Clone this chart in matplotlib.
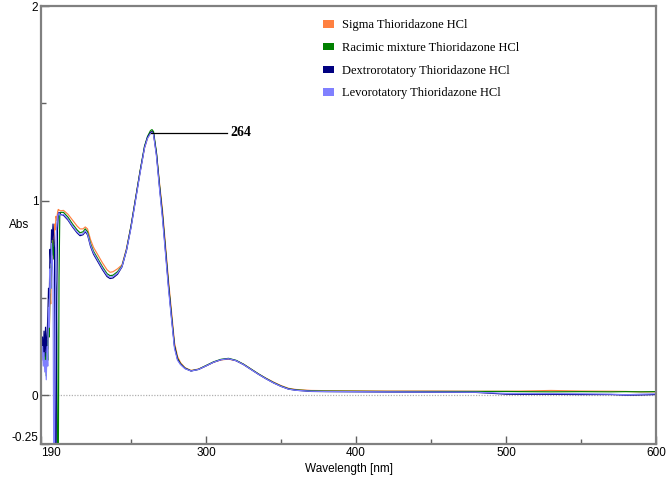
import matplotlib
matplotlib.use("Agg")
import matplotlib.pyplot as plt
from matplotlib.patches import Patch
from matplotlib.ticker import FixedLocator

# UV spectra of thioridazone HCl samples
# noisy start 190-203 nm in 0.5 nm steps, then a coarser smooth part
wl_noise = [190, 190.5, 191, 191.5, 192, 192.5, 193, 193.5, 194, 194.5, 195, 195.5,
            196, 196.5, 197, 197.5, 198, 198.5, 199, 199.5, 200, 200.5, 201, 201.5,
            202, 202.5, 203]
wl_main = [205, 208, 211, 214, 216, 218, 219.5, 221, 223, 225, 228, 231, 234, 236,
           238, 241, 244, 247, 250, 253, 256, 259, 261, 263, 264, 265, 267, 269, 271,
           273, 275, 277, 279, 281, 283, 286, 290, 295, 300, 305, 310, 315, 320, 325,
           330, 335, 340, 345, 350, 355, 360, 370, 380, 400, 420, 450, 480, 500, 510,
           530, 550, 570, 580, 590, 600]

sigma_noise = [0.27, 0.24, 0.26, 0.21, 0.23, 0.19, 0.22, 0.20, 0.26, 0.24, 0.34, 0.30,
               0.52, 0.47, 0.70, 0.66, 0.82, 0.78, 0.88, 0.85, 0.92, 0.90, 0.94, 0.955,
               0.952, 0.950, 0.948]
racemic_noise = [0.30, 0.24, 0.27, 0.20, 0.25, 0.16, 0.22, 0.10, 0.28, 0.18, 0.40, 0.30,
                 0.62, 0.55, 0.78, 0.72, 0.80, 0.70, 0.76, 0.60, 0.55, 0.30, -0.40, -0.40,
                 0.60, 0.92, 0.94]
dextro_noise = [0.26, 0.21, 0.30, 0.18, 0.33, 0.20, 0.35, 0.22, 0.30, 0.40, 0.55, 0.50,
                0.75, 0.68, 0.85, 0.80, 0.88, 0.82, 0.75, -0.40, -0.40, 0.50, 0.85, 0.93,
                0.94, 0.935, 0.93]
levo_noise = [0.28, 0.20, 0.25, 0.15, 0.22, 0.12, 0.18, 0.08, 0.25, 0.15, 0.45, 0.35,
              0.65, 0.55, 0.78, 0.70, 0.60, -0.40, -0.40, 0.40, 0.80, 0.88, 0.92, 0.93,
              0.935, 0.93, 0.925]

sigma_main = [0.950, 0.930, 0.900, 0.870, 0.855, 0.855, 0.865, 0.855, 0.800, 0.760,
              0.720, 0.680, 0.645, 0.632, 0.635, 0.650, 0.670, 0.755, 0.870, 1.010,
              1.150, 1.270, 1.320, 1.350, 1.355, 1.345, 1.240, 1.090, 0.950, 0.770,
              0.590, 0.430, 0.270, 0.200, 0.168, 0.142, 0.128, 0.135, 0.152, 0.170,
              0.182, 0.186, 0.178, 0.160, 0.135, 0.110, 0.088, 0.068, 0.050, 0.036,
              0.030, 0.025, 0.024, 0.023, 0.022, 0.022, 0.021, 0.021, 0.022, 0.025,
              0.022, 0.021, 0.020, 0.018, 0.018]
racemic_main = [0.940, 0.915, 0.880, 0.850, 0.835, 0.840, 0.855, 0.840, 0.780, 0.740,
                0.700, 0.660, 0.625, 0.615, 0.617, 0.635, 0.665, 0.750, 0.870, 1.010,
                1.150, 1.280, 1.330, 1.360, 1.365, 1.355, 1.245, 1.080, 0.930, 0.750,
                0.570, 0.410, 0.255, 0.190, 0.163, 0.140, 0.126, 0.134, 0.153, 0.172,
                0.185, 0.190, 0.180, 0.160, 0.135, 0.110, 0.087, 0.066, 0.048, 0.034,
                0.028, 0.023, 0.022, 0.021, 0.020, 0.020, 0.020, 0.020, 0.019, 0.018,
                0.019, 0.018, 0.019, 0.018, 0.019]
dextro_main = [0.925, 0.900, 0.865, 0.835, 0.820, 0.825, 0.840, 0.825, 0.765, 0.725,
               0.685, 0.645, 0.610, 0.600, 0.603, 0.622, 0.660, 0.745, 0.865, 1.005,
               1.145, 1.275, 1.325, 1.350, 1.355, 1.345, 1.235, 1.070, 0.920, 0.740,
               0.560, 0.400, 0.250, 0.185, 0.160, 0.138, 0.125, 0.133, 0.151, 0.170,
               0.183, 0.188, 0.178, 0.158, 0.133, 0.108, 0.085, 0.064, 0.046, 0.032,
               0.026, 0.020, 0.019, 0.018, 0.017, 0.016, 0.015, 0.006, 0.005, 0.005,
               0.004, 0.004, 0.001, 0.002, 0.004]
levo_main = [0.930, 0.905, 0.870, 0.840, 0.826, 0.830, 0.846, 0.830, 0.772, 0.732,
             0.692, 0.652, 0.617, 0.607, 0.610, 0.628, 0.662, 0.745, 0.860, 1.000,
             1.140, 1.270, 1.320, 1.345, 1.350, 1.340, 1.225, 1.060, 0.905, 0.725,
             0.545, 0.390, 0.240, 0.180, 0.158, 0.137, 0.125, 0.133, 0.151, 0.170,
             0.183, 0.188, 0.178, 0.158, 0.133, 0.108, 0.085, 0.064, 0.046, 0.032,
             0.026, 0.021, 0.020, 0.019, 0.018, 0.017, 0.016, 0.010, 0.009, 0.009,
             0.008, 0.006, 0.003, 0.006, 0.008]

labels = ["Sigma Thioridazone HCl", "Racimic mixture Thioridazone HCl",
          "Dextrorotatory Thioridazone HCl", "Levorotatory Thioridazone HCl"]
colors = ["#ff8040", "#008000", "#000080", "#8080ff"]

peak_wl = 264
peak_abs = 1.35

fig = plt.figure(figsize=(6.67, 4.8), dpi=100)
ax = fig.add_axes([0.0615, 0.075, 0.922, 0.9125])

wl = wl_noise + wl_main
series = [sigma_noise + sigma_main, racemic_noise + racemic_main,
          dextro_noise + dextro_main, levo_noise + levo_main]
for ys, c in zip(series, colors):
    ax.plot(wl, ys, color=c, lw=0.85)

ax.axhline(0, color="#b0b0b0", lw=0.9, ls=(0, (1, 1.2)), zorder=0)

# peak marker
ax.plot([peak_wl - 0.5, 314], [peak_abs, peak_abs], color="black", lw=0.9)
ax.text(316, peak_abs, str(peak_wl), fontfamily="Liberation Serif",
        fontweight="bold", fontsize=10, va="center", ha="left")

ax.set_xlim(190, 600)
ax.set_ylim(-0.25, 2)
ax.set_xticks([190, 300, 400, 500, 600])
ax.xaxis.set_minor_locator(FixedLocator([250, 350, 450, 550]))
ax.set_yticks([-0.25, 0, 1, 2])
ax.set_yticklabels(["-0.25", "0", "1", "2"])
ax.yaxis.set_minor_locator(FixedLocator([0.5, 1.5]))
ax.tick_params(which="both", direction="in", color="#606060",
               labelsize=8.5, pad=2)
ax.tick_params(which="major", length=6, width=1)
ax.tick_params(which="minor", length=3.5, width=1)
for lab in ax.get_xticklabels() + ax.get_yticklabels():
    lab.set_fontfamily("Liberation Sans")
ax.get_xticklabels()[0].set_ha("left")
ax.get_yticklabels()[0].set_va("bottom")

for s in ax.spines.values():
    s.set_color("#808080")
    s.set_linewidth(1.6)

ax.set_xlabel("Wavelength [nm]", fontfamily="Liberation Sans", fontsize=8.5, labelpad=3)
ax.set_ylabel("Abs", fontfamily="Liberation Sans", fontsize=8.5, rotation=0,
              va="center", ha="center")
ax.yaxis.set_label_coords(-0.036, 0.5)

handles = [Patch(facecolor=c, edgecolor="none") for c in colors]
ax.legend(handles, labels, loc="upper left", bbox_to_anchor=(0.44, 0.995),
          frameon=False, prop={"family": "Liberation Serif", "size": 9},
          handlelength=0.9, handleheight=0.55, handletextpad=0.6, labelspacing=0.85)

fig.savefig("out.png", dpi=100)
